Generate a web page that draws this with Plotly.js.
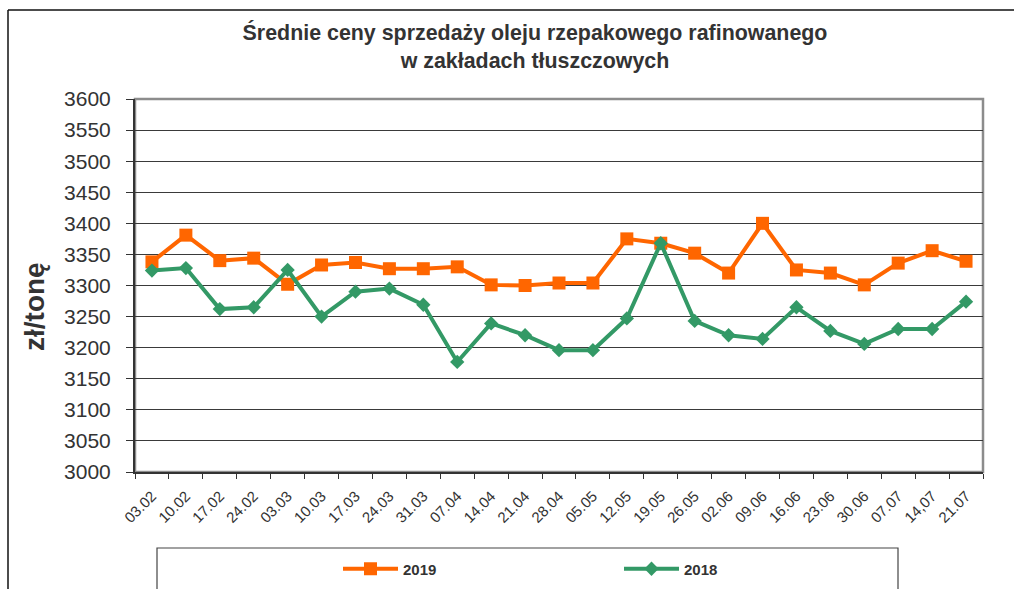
<!DOCTYPE html>
<html>
<head>
<meta charset="utf-8">
<script src="https://cdn.plot.ly/plotly-3.0.1.min.js"></script>
<style>
html,body{margin:0;padding:0;background:#fff;}
#chart{width:1014px;height:589px;}
</style>
</head>
<body>
<div id="chart"></div>
<script>
const categories = ['03.02','10.02','17.02','24.02','03.03','10.03','17.03','24.03','31.03','07.04','14.04','21.04','28.04','05.05','12.05','19.05','26.05','02.06','09.06','16.06','23.06','30.06','07.07','14,07','21.07'];
const values2019 = [3338,3381,3340,3344,3302,3333,3337,3327,3327,3330,3301,3300,3304,3304,3375,3368,3352,3320,3400,3325,3320,3301,3336,3356,3339];
const values2018 = [3324,3328,3262,3265,3325,3250,3290,3295,3269,3177,3239,3220,3196,3196,3247,3368,3243,3220,3214,3265,3227,3206,3230,3230,3274];
const yTicks = [3000,3050,3100,3150,3200,3250,3300,3350,3400,3450,3500,3550,3600];

const W = 1014, H = 589;
const L = 135, R = 983, T = 99, B = 472;
const px = x => (x - L) / (R - L);
const py = y => (B - y) / (B - T);

const font = 'Liberation Sans, Arial, sans-serif';
const txt = '#333333';

const traces = [
  {
    type: 'scatter', mode: 'lines+markers', name: '2019',
    x: categories, y: values2019,
    line: {color: '#FF6600', width: 4},
    marker: {symbol: 'square', size: 13, color: '#FF6600'}
  },
  {
    type: 'scatter', mode: 'lines+markers', name: '2018',
    x: categories, y: values2018,
    line: {color: '#339966', width: 4},
    marker: {symbol: 'diamond', size: 11, color: '#339966'}
  }
];

const layout = {
  width: W, height: H,
  margin: {l: L, r: W - R, t: T, b: H - B, pad: 0, autoexpand: false},
  paper_bgcolor: '#ffffff', plot_bgcolor: '#ffffff',
  font: {family: font, color: txt},
  showlegend: true,
  title: {
    text: 'Średnie ceny sprzedaży oleju rzepakowego rafinowanego<br>w zakładach tłuszczowych',
    font: {family: font, size: 21.4, weight: 'bold', color: txt},
    xref: 'paper', x: px(535), xanchor: 'center',
    yref: 'container', y: 1 - 40 / H, yanchor: 'top'
  },
  xaxis: {
    type: 'category',
    range: [-0.5, categories.length - 0.5],
    tickson: 'boundaries',
    ticks: 'outside', ticklen: 5, tickcolor: '#333', tickwidth: 1,
    tickangle: -45,
    ticklabelstandoff: 8,
    tickfont: {family: font, size: 15, color: txt},
    showgrid: false,
    showline: true, linecolor: '#333', linewidth: 1.5,
    zeroline: false,
    automargin: false,
    fixedrange: true
  },
  yaxis: {
    range: [3000, 3600],
    tickvals: yTicks,
    ticktext: yTicks.map(String),
    ticks: 'outside', ticklen: 7, tickcolor: '#333', tickwidth: 1,
    ticklabelstandoff: 11,
    tickfont: {family: font, size: 21, color: txt},
    showgrid: true, gridcolor: '#3a3a3a', gridwidth: 1,
    showline: true, linecolor: '#333', linewidth: 2,
    zeroline: false,
    automargin: false,
    fixedrange: true
  },
  legend: {
    orientation: 'h',
    x: px(338), xanchor: 'left',
    y: py(569), yanchor: 'middle',
    entrywidth: 211, entrywidthmode: 'pixels',
    itemwidth: 55,
    font: {family: font, size: 15, weight: 'bold', color: txt},
    bgcolor: 'rgba(0,0,0,0)', borderwidth: 0
  },
  annotations: [
    {
      text: 'zł/tonę', textangle: -90,
      xref: 'paper', yref: 'paper',
      x: px(34), y: py(307), xanchor: 'center', yanchor: 'middle',
      showarrow: false,
      font: {family: font, size: 28, weight: 'bold', color: txt}
    }
  ],
  shapes: [
    {type: 'rect', xref: 'paper', yref: 'paper', x0: 0, x1: 1, y0: 0, y1: 1,
     line: {color: '#8c8c8c', width: 2.5}, layer: 'between'},
    {type: 'line', xref: 'paper', yref: 'paper', x0: px(8), x1: px(1030), y0: py(10), y1: py(10),
     line: {color: '#111', width: 1.5}},
    {type: 'line', xref: 'paper', yref: 'paper', x0: px(8), x1: px(8), y0: py(10), y1: py(610),
     line: {color: '#111', width: 1.5}},
    {type: 'rect', xref: 'paper', yref: 'paper', x0: px(157), x1: px(898), y0: py(548), y1: py(620),
     line: {color: '#444', width: 1.2}}
  ]
};

Plotly.newPlot('chart', traces, layout, {displayModeBar: false, staticPlot: true});
</script>
</body>
</html>
